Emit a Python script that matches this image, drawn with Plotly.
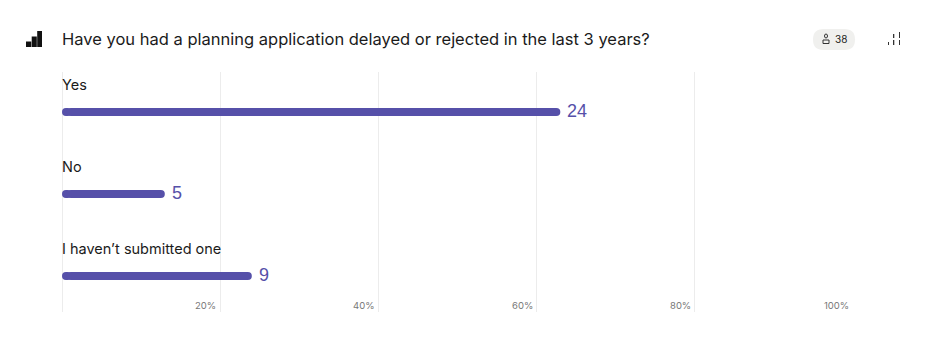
import plotly.graph_objects as go

categories = ["Yes", "No", "I haven’t submitted one"]
counts = [24, 5, 9]
percent = [63, 13, 24]
total_respondents = 38
tick_values = [20, 40, 60, 80, 100]
tick_labels = ["20%", "40%", "60%", "80%", "100%"]
title_text = "Have you had a planning application delayed or rejected in the last 3 years?"

BAR = "#5650A9"
DARK = "#1B1B1B"
FONT = "Inter"
W, H = 944, 359
L, R, T, B = 62, 853, 72, 312


def px(x):
    return (x - L) / (R - L)


def py(y):
    return (B - y) / (B - T)


fig = go.Figure()
# left rounded cap
fig.add_bar(
    y=categories, x=[-1.2] * 3, base=[1.2] * 3, orientation="h", width=0.1,
    marker=dict(color=BAR, cornerradius=4, line_width=0), hoverinfo="skip", showlegend=False,
)
fig.add_bar(
    y=categories, x=[p - 0.6 for p in percent], base=[0.6] * 3, orientation="h", width=0.1,
    marker=dict(color=BAR, cornerradius=4, line_width=0), showlegend=False,
)

annotations = []
for cat, p, c in zip(categories, percent, counts):
    annotations.append(dict(
        x=0, y=cat, xref="x", yref="y", text=cat, showarrow=False, xanchor="left", yanchor="middle",
        yshift=28, xshift=-2, font=dict(family=FONT, size=14.5, color=DARK),
    ))
    annotations.append(dict(
        x=p, y=cat, xref="x", yref="y", text=str(c), showarrow=False, xanchor="left", yanchor="middle",
        yshift=1, xshift=5, font=dict(family="Liberation Sans", size=18, color=BAR),
    ))
for v, t in zip(tick_values, tick_labels):
    annotations.append(dict(
        x=v, y=py(305), xref="x", yref="paper", text=t, showarrow=False, xanchor="right", yanchor="middle",
        xshift=-2, font=dict(family=FONT, size=9.5, color="#777777"),
    ))
annotations.append(dict(
    x=px(62), y=py(39.5), xref="paper", yref="paper", text=title_text, showarrow=False,
    xanchor="left", yanchor="middle", xshift=-2, font=dict(family=FONT, size=16.5, color=DARK),
))
annotations.append(dict(
    x=px(835), y=py(39), xref="paper", yref="paper", text=str(total_respondents), showarrow=False,
    xanchor="left", yanchor="middle", xshift=-2, font=dict(family=FONT, size=10, color=DARK),
))


def rect(x0, y0, x1, y1, color):
    return dict(type="rect", xref="paper", yref="paper", x0=px(x0), x1=px(x1), y0=py(y0), y1=py(y1),
                fillcolor=color, line_width=0, layer="above")


def pill(x0, y0, x1, y1, color):
    r = (y1 - y0) / 2
    a, b, c, d = px(x0), px(x0 + r), px(x1 - r), px(x1)
    t, m, e = py(y0), py((y0 + y1) / 2), py(y1)
    path = f"M {b} {t} L {c} {t} Q {d} {t} {d} {m} Q {d} {e} {c} {e} L {b} {e} Q {a} {e} {a} {m} Q {a} {t} {b} {t} Z"
    return dict(type="path", xref="paper", yref="paper", path=path, fillcolor=color, line_width=0, layer="below")


shapes = [
    # stair icon
    rect(26, 41.5, 31.3, 47, "#111111"), rect(31.7, 36.5, 36.8, 47, "#111111"), rect(37.2, 31, 42, 47, "#111111"),
    # badge
    pill(813, 29, 855, 50, "#F0F0EE"),
    # chart icon
    rect(888, 42, 889, 45, "#333333"), rect(893, 40, 894.3, 45, "#333333"),
    rect(893, 34, 894.3, 38, "#333333"),
    rect(899, 32, 900, 38, "#333333"), rect(899, 40, 900, 45, "#333333"),
    # person icon
    dict(type="circle", xref="paper", yref="paper", x0=px(824.5), x1=px(827.5), y0=py(34), y1=py(38),
         line=dict(color="#333333", width=1), layer="above"),
    dict(type="rect", xref="paper", yref="paper", x0=px(823), x1=px(829), y0=py(40), y1=py(43.5),
         line=dict(color="#333333", width=1), layer="above"),
]

fig.update_layout(
    width=W, height=H, margin=dict(l=L, r=W - R, t=T, b=H - B),
    barmode="overlay", paper_bgcolor="white", plot_bgcolor="white", showlegend=False,
    xaxis=dict(range=[0, 100], tickvals=[0] + tick_values, showticklabels=False, ticks="",
               showgrid=True, gridcolor="#ECECEC", gridwidth=1, zeroline=True, zerolinecolor="#ECECEC",
               zerolinewidth=1, fixedrange=True),
    yaxis=dict(type="category", categoryorder="array", categoryarray=categories,
               range=[2.439, -0.488], showticklabels=False, ticks="", showgrid=False, zeroline=False,
               fixedrange=True),
    annotations=annotations, shapes=shapes, hovermode=False,
)
fig.write_html("out.html", post_script="document.body.style.margin='0';", config={"displayModeBar": False})
